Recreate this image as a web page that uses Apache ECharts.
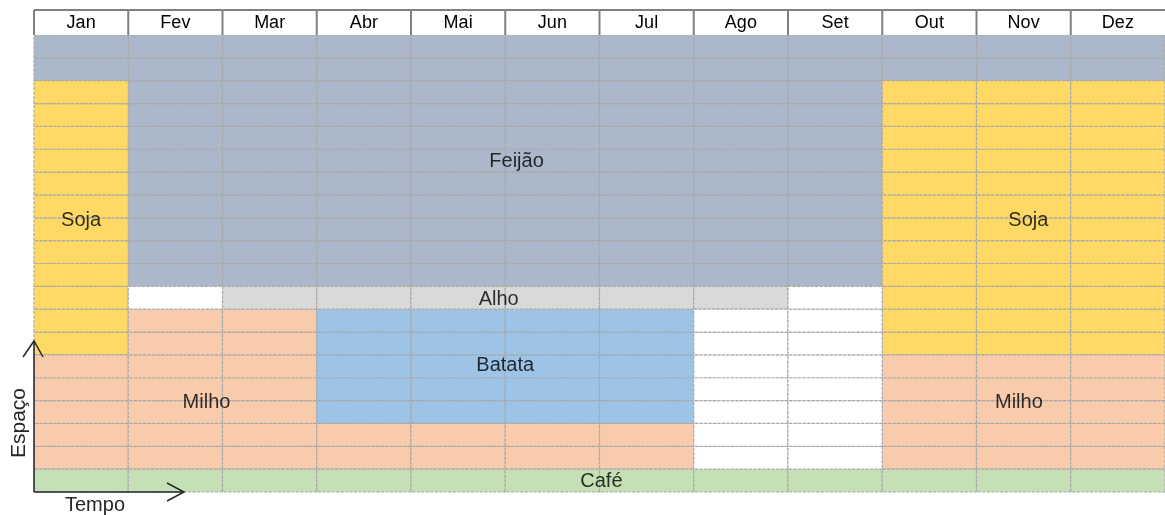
<!DOCTYPE html>
<html>
<head>
<meta charset="utf-8">
<script src="https://cdn.jsdelivr.net/npm/echarts@6/dist/echarts.min.js"></script>
<style>
  html, body { margin: 0; padding: 0; background: #fff; }
  #chart { width: 1165px; height: 515px; }
</style>
</head>
<body>
<div id="chart"></div>
<script>
// meses (eixo do tempo) e faixas de espaço (0 = linha de baixo)
const months = ['Jan', 'Fev', 'Mar', 'Abr', 'Mai', 'Jun', 'Jul', 'Ago', 'Set', 'Out', 'Nov', 'Dez']
const rowCount = 20

// culturas e cores
const crops = ['Feijão', 'Soja', 'Milho', 'Batata', 'Alho', 'Café']
const cropColors = ['#ABB8C9', '#FFD966', '#F8CBAD', '#9DC3E6', '#D9D9D9', '#C5E0B4']

// blocos por cultura: [mês inicial, mês final, faixa inicial, faixa final]
const feijao = [[1, 8, 9, 19], [0, 0, 18, 19], [9, 11, 18, 19]]
const soja = [[0, 0, 6, 17], [9, 11, 6, 17]]
const milho = [[0, 0, 1, 5], [1, 2, 1, 7], [3, 6, 1, 2], [9, 11, 1, 5]]
const batata = [[3, 6, 3, 7]]
const alho = [[2, 7, 8, 8]]
const cafe = [[0, 11, 0, 0]]

// rótulos dentro do gráfico
const labelNames = ['Feijão', 'Soja', 'Soja', 'Alho', 'Batata', 'Milho', 'Milho', 'Café']
const labelX = [5.12, 0.5, 10.55, 4.93, 5.0, 1.83, 10.45, 6.02]
const labelY = [14.45, 11.88, 11.88, 8.42, 5.52, 3.92, 3.92, 0.45]

const blocks = [feijao, soja, milho, batata, alho, cafe]
const filled = {}
const cells = []
blocks.forEach((list, c) => {
  list.forEach(([m0, m1, r0, r1]) => {
    for (let m = m0; m <= m1; m++) {
      for (let r = r0; r <= r1; r++) {
        cells.push([m, r, c])
        filled[m + '_' + r] = true
      }
    }
  })
})
// células vazias (brancas)
for (let m = 0; m < months.length; m++) {
  for (let r = 0; r < rowCount; r++) {
    if (!filled[m + '_' + r]) cells.push([m, r, -1])
  }
}

const myChart = echarts.init(document.getElementById('chart'))

myChart.setOption({
  animation: false,
  textStyle: { fontFamily: 'Liberation Sans, Arial, sans-serif' },
  grid: [
    { left: 34, right: -2, top: 35, bottom: 23 },
    { left: 34, right: -2, top: 10, height: 25 }
  ],
  xAxis: [
    { type: 'value', gridIndex: 0, min: 0, max: 12, show: false },
    { type: 'category', gridIndex: 1, data: months, show: false }
  ],
  yAxis: [
    { type: 'value', gridIndex: 0, min: 0, max: rowCount, show: false },
    { type: 'value', gridIndex: 1, min: 0, max: 1, show: false }
  ],
  series: [
    {
      // células
      type: 'custom',
      xAxisIndex: 0,
      yAxisIndex: 0,
      data: cells,
      renderItem: (params, api) => {
        const m = api.value(0)
        const r = api.value(1)
        const c = api.value(2)
        const p0 = api.coord([m, r + 1])
        const p1 = api.coord([m + 1, r])
        return {
          type: 'rect',
          shape: { x: p0[0], y: p0[1], width: p1[0] - p0[0], height: p1[1] - p0[1] },
          style: {
            fill: c < 0 ? '#ffffff' : cropColors[c],
            stroke: '#a8a8a8',
            lineWidth: 1.2,
            lineDash: [3, 1.5]
          }
        }
      }
    },
    {
      // cabeçalho dos meses
      type: 'custom',
      xAxisIndex: 1,
      yAxisIndex: 1,
      data: months.map((name, i) => [i, name]),
      renderItem: (params, api) => {
        const i = api.value(0)
        const p = api.coord([i, 1])
        const q = api.coord([i, 0])
        const w = api.size([1, 0])[0]
        return {
          type: 'group',
          children: [
            {
              type: 'rect',
              shape: { x: p[0] - w / 2, y: p[1], width: w, height: q[1] - p[1] },
              style: { fill: '#fff', stroke: 'none' }
            },
            {
              type: 'line',
              shape: { x1: p[0] - w / 2, y1: p[1], x2: p[0] + w / 2, y2: p[1] },
              style: { stroke: '#7f7f7f', lineWidth: 2 }
            },
            {
              type: 'line',
              shape: { x1: p[0] - w / 2, y1: p[1], x2: p[0] - w / 2, y2: q[1] },
              style: { stroke: '#7f7f7f', lineWidth: 2 }
            },
            {
              type: 'text',
              style: {
                text: months[i],
                x: p[0],
                y: (p[1] + q[1]) / 2 + 1,
                align: 'center',
                verticalAlign: 'middle',
                fill: '#000',
                font: '18px "Liberation Sans", Arial, sans-serif'
              }
            }
          ]
        }
      }
    },
    {
      // nomes das culturas
      type: 'scatter',
      xAxisIndex: 0,
      yAxisIndex: 0,
      symbolSize: 0,
      silent: true,
      data: labelNames.map((n, i) => ({ name: n, value: [labelX[i], labelY[i]] })),
      label: {
        show: true,
        position: 'inside',
        formatter: '{b}',
        color: '#000',
        fontSize: 20,
        fontFamily: 'Liberation Sans, Arial, sans-serif'
      },
      z: 5
    }
  ],
  graphic: [
    {
      type: 'polyline',
      shape: { points: [[34, 492], [34, 341]] },
      style: { stroke: '#262626', lineWidth: 1.5, fill: null },
      z: 10
    },
    {
      type: 'polyline',
      shape: { points: [[23, 357], [34, 341], [43, 357]] },
      style: { stroke: '#262626', lineWidth: 1.5, fill: null },
      z: 10
    },
    {
      type: 'polyline',
      shape: { points: [[34, 492], [184, 492]] },
      style: { stroke: '#262626', lineWidth: 1.5, fill: null },
      z: 10
    },
    {
      type: 'polyline',
      shape: { points: [[167, 483], [184, 492], [167, 501]] },
      style: { stroke: '#262626', lineWidth: 1.5, fill: null },
      z: 10
    },
    {
      type: 'text',
      x: 19,
      y: 423,
      rotation: Math.PI / 2,
      style: {
        text: 'Espaço',
        align: 'center',
        verticalAlign: 'middle',
        fill: '#262626',
        font: '21px "Liberation Sans", Arial, sans-serif'
      },
      z: 10
    },
    {
      type: 'text',
      x: 95,
      y: 505,
      style: {
        text: 'Tempo',
        align: 'center',
        verticalAlign: 'middle',
        fill: '#262626',
        font: '20px "Liberation Sans", Arial, sans-serif'
      },
      z: 10
    }
  ]
})
</script>
</body>
</html>
